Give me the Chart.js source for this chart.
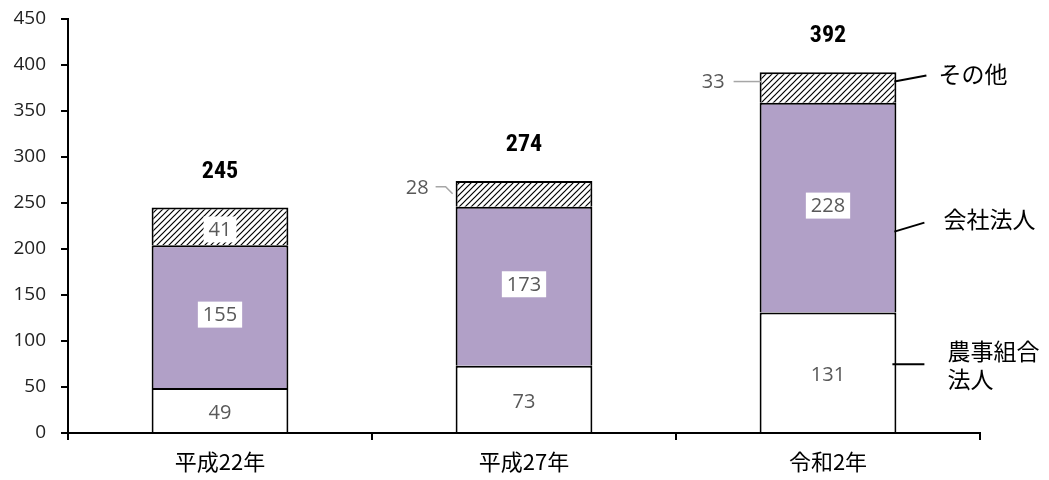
<!DOCTYPE html>
<html><head><meta charset="utf-8">
<script src="https://cdn.jsdelivr.net/npm/chart.js@4/dist/chart.umd.min.js"></script>
<style>html,body{margin:0;padding:0;background:#fff}#wrap{width:1049px;height:480px}</style>
</head><body><div id="wrap"><canvas id="c" width="1049" height="480"></canvas></div>
<script>
const categories = ['平成22年', '平成27年', '令和2年'];
const noujiValues = [49, 73, 131];
const kaishaValues = [155, 173, 228];
const otherValues = [41, 28, 33];
const totalValues = [245, 274, 392];
const seriesNames = ['農事組合法人', '会社法人', 'その他'];
const yTicks = [0, 50, 100, 150, 200, 250, 300, 350, 400, 450];

function hatch() {
  const s = 6, c = document.createElement('canvas');
  c.width = s; c.height = s;
  const g = c.getContext('2d');
  g.fillStyle = '#fff'; g.fillRect(0, 0, s, s);
  g.strokeStyle = '#000'; g.lineWidth = 1.2;
  g.beginPath();
  g.moveTo(0, s); g.lineTo(s, 0);
  g.moveTo(-s/2, s/2); g.lineTo(s/2, -s/2);
  g.moveTo(s/2, s + s/2); g.lineTo(s + s/2, s/2);
  g.stroke();
  return g.createPattern(c, 'repeat');
}

const JP = '"Noto Sans CJK JP", "Noto Sans", sans-serif';
const NUM = '"Open Sans", "DejaVu Sans", sans-serif';

const labelPlugin = {
  id: 'labels',
  afterDatasetsDraw(chart) {
    const ctx = chart.ctx;
    const m0 = chart.getDatasetMeta(0).data, m1 = chart.getDatasetMeta(1).data, m2 = chart.getDatasetMeta(2).data;
    ctx.save();
    ctx.textAlign = 'center'; ctx.textBaseline = 'middle';
    function boxLabel(txt, x, y) {
      ctx.font = '20px ' + NUM;
      const w = ctx.measureText(txt).width + 10;
      ctx.fillStyle = '#fff';
      ctx.fillRect(x - w/2, y - 13, w, 26);
      ctx.fillStyle = '#595959';
      ctx.fillText(txt, x, y + 1);
    }
    for (let i = 0; i < categories.length; i++) {
      const b0 = m0[i], b1 = m1[i];
      ctx.font = '20px ' + NUM; ctx.fillStyle = '#595959';
      ctx.fillText(String(noujiValues[i]), b0.x, (b0.y + b0.base) / 2 + 3);
      boxLabel(String(kaishaValues[i]), b1.x, (b1.y + b1.base) / 2 - 2);
    }
    boxLabel(String(otherValues[0]), m2[0].x, (m2[0].y + m2[0].base) / 2 + 3);
    ctx.strokeStyle = '#a6a6a6'; ctx.lineWidth = 1.5;
    {
      const b = m2[1], ym = (b.y + b.base) / 2;
      ctx.font = '20px ' + NUM; ctx.fillStyle = '#595959'; ctx.textAlign = 'right';
      ctx.fillText(String(otherValues[1]), b.x - b.width/2 - 27, ym - 6);
      ctx.beginPath();
      ctx.moveTo(b.x - b.width/2 - 20, ym - 7); ctx.lineTo(b.x - b.width/2 - 10, ym - 7); ctx.lineTo(b.x - b.width/2 - 3, ym);
      ctx.stroke();
    }
    {
      const b = m2[2], ym = (b.y + b.base) / 2;
      ctx.fillText(String(otherValues[2]), b.x - b.width/2 - 35, ym - 5);
      ctx.beginPath();
      ctx.moveTo(b.x - b.width/2 - 26, ym - 6); ctx.lineTo(b.x - b.width/2 + 2, ym - 6);
      ctx.stroke();
    }
    ctx.textAlign = 'center';
    ctx.font = 'bold 24px "Liberation Sans Narrow", "Roboto Condensed", "Liberation Sans", sans-serif';
    ctx.fillStyle = '#000';
    for (let i = 0; i < categories.length; i++) {
      ctx.fillText(String(totalValues[i]), m2[i].x, m2[i].y - 36);
    }
    const L = categories.length - 1;
    const r = m2[L].x + m2[L].width / 2;
    ctx.strokeStyle = '#000'; ctx.lineWidth = 2;
    const y2 = (m2[L].y + m2[L].base) / 2, y1 = (m1[L].y + m1[L].base) / 2, y0 = (m0[L].y + m0[L].base) / 2;
    ctx.beginPath(); ctx.moveTo(r - 2, y2 - 6); ctx.lineTo(r + 30, y2 - 12); ctx.stroke();
    ctx.beginPath(); ctx.moveTo(r - 2, y1 + 24); ctx.lineTo(r + 28, y1 + 15); ctx.stroke();
    ctx.beginPath(); ctx.moveTo(r - 4, y0 - 8); ctx.lineTo(r + 28, y0 - 8); ctx.stroke();
    ctx.font = '23px ' + JP; ctx.fillStyle = '#000'; ctx.textAlign = 'left';
    ctx.fillText(seriesNames[2], r + 42, y2 - 13);
    ctx.fillText(seriesNames[1], r + 47, y1 + 12);
    ctx.fillText(seriesNames[0].slice(0, 4), r + 51, y0 - 21);
    ctx.fillText(seriesNames[0].slice(4), r + 51, y0 + 7);
    ctx.restore();
  }
};

const ds = { borderColor: '#000', borderWidth: 2, borderSkipped: 'start', barPercentage: 0.45, categoryPercentage: 1 };
new Chart(document.getElementById('c'), {
  type: 'bar',
  data: {
    labels: categories,
    datasets: [
      Object.assign({ label: seriesNames[0], data: noujiValues, backgroundColor: '#ffffff' }, ds),
      Object.assign({ label: seriesNames[1], data: kaishaValues, backgroundColor: '#b1a0c7' }, ds),
      Object.assign({ label: seriesNames[2], data: otherValues, backgroundColor: hatch() }, ds)
    ]
  },
  options: {
    responsive: false, animation: false,
    layout: { padding: { top: 19, right: 69, left: 0, bottom: 0 } },
    plugins: { legend: { display: false }, tooltip: { enabled: false } },
    scales: {
      x: {
        stacked: true,
        grid: { display: true, drawOnChartArea: false, offset: true, tickLength: 7, color: '#000', lineWidth: 2 },
        border: { display: true, color: '#000', width: 2 },
        ticks: { color: '#000', font: { family: JP, size: 22 }, padding: 8 },
        afterFit(s) { s.height = 47; s.paddingLeft = 0; s.paddingRight = 0; }
      },
      y: {
        stacked: true, min: 0, max: 450,
        afterBuildTicks(s) { s.ticks = yTicks.map(v => ({ value: v })); },
        grid: { display: true, drawOnChartArea: false, tickLength: 7, color: '#000', lineWidth: 2 },
        border: { display: true, color: '#000', width: 2 },
        ticks: { color: '#222', font: { family: NUM, size: 19 }, padding: 15 },
        afterFit(s) { s.width = 68; s.paddingTop = 0; s.paddingBottom = 0; }
      }
    }
  },
  plugins: [labelPlugin]
});
</script></body></html>
